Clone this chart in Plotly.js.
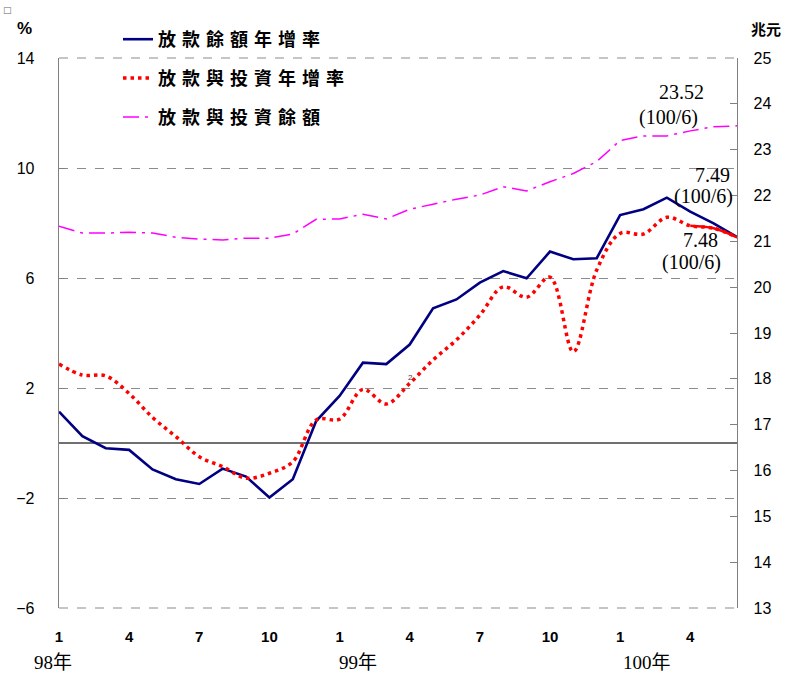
<!DOCTYPE html>
<html><head><meta charset="utf-8">
<script src="https://cdn.plot.ly/plotly-3.0.1.min.js"></script>
<style>
body{margin:0;background:#fff;}
#chart .legendtext{letter-spacing:6px;}
#chart .legend .scrollbox{clip-path:none !important;}
</style>
</head><body>
<div id="chart" style="width:792px;height:673px;"></div>
<script>
// months 98/1 .. 100/6
const months = [1,2,3,4,5,6,7,8,9,10,11,12, 1,2,3,4,5,6,7,8,9,10,11,12, 1,2,3,4,5,6];
const years  = [98,98,98,98,98,98,98,98,98,98,98,98, 99,99,99,99,99,99,99,99,99,99,99,99, 100,100,100,100,100,100];
// 放款餘額年增率 (%)
const loanGrowth = [1.14,0.25,-0.19,-0.25,-0.96,-1.32,-1.49,-0.93,-1.22,-1.98,-1.32,0.80,
                    1.71,2.92,2.87,3.58,4.90,5.22,5.83,6.25,5.99,6.96,6.68,6.72,
                    8.29,8.50,8.92,8.41,7.99,7.49];
// 放款與投資年增率 (%)
const loanInvGrowth = [2.87,2.47,2.44,1.80,0.93,0.23,-0.50,-0.86,-1.28,-1.10,-0.68,0.84,
                       0.87,1.95,1.42,2.17,3.02,3.75,4.65,5.68,5.30,6.03,3.32,6.29,
                       7.62,7.60,8.21,7.90,7.81,7.48];
// 放款與投資餘額 (兆元)
const loanInvBalance = [21.33,21.18,21.18,21.20,21.18,21.09,21.05,21.03,21.07,21.07,21.16,21.48,
                        21.49,21.59,21.49,21.70,21.81,21.92,22.01,22.19,22.10,22.30,22.48,22.74,
                        23.20,23.30,23.30,23.41,23.50,23.52];
const seriesNames = ['放款餘額年增率','放款與投資年增率','放款與投資餘額'];
const yearLabels = ['98年','99年','100年'];
const leftTicks = [-6,-2,2,6,10,14];
const rightTicks = [13,14,15,16,17,18,19,20,21,22,23,24,25];

const xIdx = months.map((m,i)=>i);
const tickIdx = xIdx.filter(i => [1,4,7,10].includes(months[i]));
const tickText = tickIdx.map(i => String(months[i]));
const last = months.length - 1;

const traces = [
  {x:xIdx, y:loanGrowth, name:seriesNames[0], type:'scatter', mode:'lines',
   line:{color:'#000080', width:2.6}, legendgroup:'a'},
  {x:xIdx, y:loanInvGrowth, name:seriesNames[1], type:'scatter', mode:'lines',
   line:{color:'#ff0000', width:3.5, dash:'3.5px,4px', shape:'spline', smoothing:1}, legendgroup:'b'},
  {x:xIdx, y:loanInvBalance, name:seriesNames[2], type:'scatter', mode:'lines', yaxis:'y2',
   line:{color:'#ff00ff', width:1.5, dash:'16px,6px,3px,6px'}, legendgroup:'c'},
  {x:xIdx.slice(last-2), y:loanInvGrowth.slice(last-2), type:'scatter', mode:'lines',
   line:{color:'#ff0000', width:2.4, shape:'spline'}, showlegend:false, hoverinfo:'skip'}
];

const L=59, R=737, T=58, B=608;
const px = x => (x-L)/(R-L);
const py = y => (B-y)/(B-T);

const serif = {family:'"Liberation Serif", "Times New Roman", serif', size:20, color:'#000'};
const ann = [];
function txt(s, x, y, font, xa){ ann.push({text:s, xref:'paper', yref:'paper', x:px(x), y:py(y),
  xanchor:xa||'center', yanchor:'middle', showarrow:false, font:font}); }

txt(loanInvBalance[last].toFixed(2), 681, 92, serif);
txt('(' + years[last] + '/' + months[last] + ')', 668, 117, serif);
txt(loanGrowth[last].toFixed(2), 712, 175, serif);
txt('(' + years[last] + '/' + months[last] + ')', 703, 197, serif);
txt(loanInvGrowth[last].toFixed(2), 700, 240, serif);
txt('(' + years[last] + '/' + months[last] + ')', 691, 262, serif);

const yfont = {family:'"Liberation Serif", "Noto Sans CJK TC", serif', size:19, color:'#000'};
txt(yearLabels[0], 32, 662, yfont, 'left');
txt(yearLabels[1], 337, 662, yfont, 'left');
txt(yearLabels[2], 621, 662, yfont, 'left');

txt('%', 24, 28, {family:'"Liberation Sans", Arial, sans-serif', size:17, color:'#000', weight:'bold'});
txt('兆元', 766, 28, {family:'"Noto Sans CJK TC", sans-serif', size:15, color:'#000', weight:'bold'});
txt('□', 8, 10, {family:'"DejaVu Sans", sans-serif', size:9, color:'#666'});
txt('2', 410, 377, {family:'"Liberation Sans", Arial, sans-serif', size:8, color:'#444'});

// dashed grid lines along the top and bottom edges of the plot (Plotly skips grid lines on the edges)
const edgeGrid = [0, 1].map(v => ({
  type:'line', xref:'paper', yref:'paper', x0:0, x1:1, y0:v, y1:v, layer:'below',
  line:{color:'#8c8c8c', width:1.2, dash:'dash'}}));

const layout = {
  width:792, height:673,
  margin:{l:L, r:792-R, t:T, b:673-B, pad:0},
  paper_bgcolor:'#fff', plot_bgcolor:'#fff',
  showlegend:true,
  legend:{x:px(118), y:py(21), xanchor:'left', yanchor:'top', bgcolor:'rgba(0,0,0,0)',
          traceorder:'grouped', tracegroupgap:12.5,
          font:{family:'"Noto Sans CJK TC", sans-serif', size:18, color:'#000', weight:'bold'}},
  xaxis:{range:[0,last], tickvals:tickIdx, ticktext:tickText, showgrid:false, zeroline:false,
         showline:false, ticks:'', ticklabelstandoff:18,
         tickfont:{family:'"Liberation Sans", Arial, sans-serif', size:15, color:'#000', weight:'bold'}},
  yaxis:{range:[leftTicks[0], leftTicks[leftTicks.length-1]], tickvals:leftTicks, showgrid:true,
         gridcolor:'#8c8c8c', griddash:'dash', gridwidth:1,
         zeroline:true, zerolinecolor:'#707070', zerolinewidth:1.4,
         showline:true, linecolor:'#808080', linewidth:1.3, ticks:'inside', ticklen:6, tickcolor:'#808080',
         ticklabelstandoff:20,
         tickfont:{family:'"Liberation Sans", Arial, sans-serif', size:16, color:'#000'}},
  yaxis2:{range:[rightTicks[0], rightTicks[rightTicks.length-1]], tickvals:rightTicks, overlaying:'y', side:'right',
          showgrid:false, zeroline:false,
          showline:true, linecolor:'#808080', linewidth:1.3, ticks:'inside', ticklen:7, tickcolor:'#808080',
          ticklabelstandoff:12,
          tickfont:{family:'"Liberation Sans", Arial, sans-serif', size:16, color:'#000'}},
  shapes:edgeGrid,
  annotations:ann
};
Plotly.newPlot('chart', traces, layout, {staticPlot:true});
</script>
</body></html>
